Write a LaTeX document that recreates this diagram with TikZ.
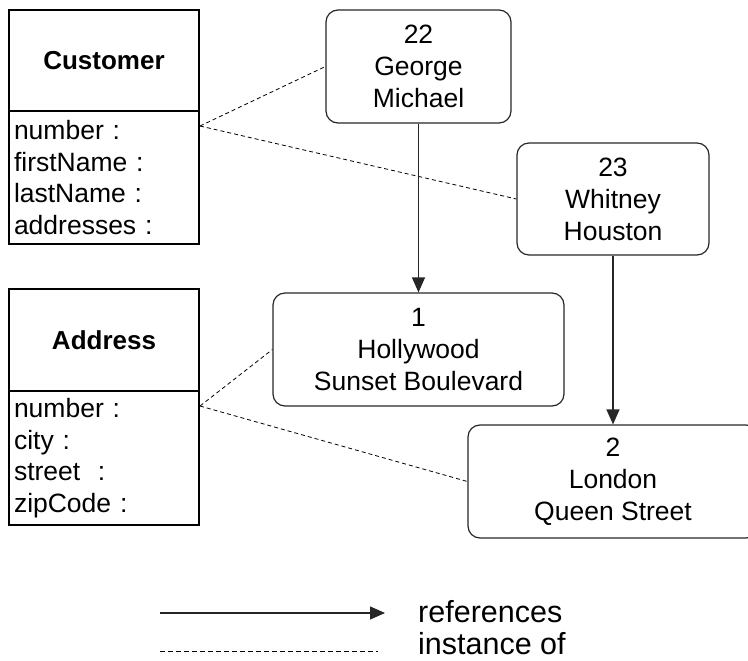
\documentclass[tikz,border=0pt]{standalone}
\usepackage{fontspec}
\setmainfont{Liberation Sans}
\usetikzlibrary{arrows.meta}
\begin{document}
\begin{tikzpicture}[x=1pt,y=-1pt,
  classhead/.style={draw, line width=2pt, minimum width=190pt, inner sep=0pt,
    font=\fontsize{26}{31}\selectfont\bfseries},
  classattr/.style={draw, line width=2pt, minimum width=190pt, text width=180pt,
    inner xsep=5pt, inner ysep=0pt, align=left, font=\fontsize{26.5}{31.5}\selectfont},
  objbox/.style={draw=black!85, line width=1.2pt, rounded corners=12pt, inner sep=0pt,
    minimum height=113pt, align=center, font=\fontsize{26.5}{32}\selectfont},
  refline/.style={line width=1.3pt, black!85, -{Triangle[length=15pt,width=13pt]}},
  instline/.style={line width=0.8pt, dash pattern=on 4pt off 3pt},
  legtext/.style={anchor=west, inner sep=0pt, font=\fontsize{30.5}{35}\selectfont}
]
\useasboundingbox (0,0) rectangle (748,661);

% classes
\node[classhead, minimum height=101pt] (chead) at (104,60.5) {Customer};
\node[classattr, minimum height=133pt] (cattr) at (104,177.5)
  {number :\\firstName :\\lastName :\\addresses :};
\node[classhead, minimum height=102pt] (ahead) at (104,340) {Address};
\node[classattr, minimum height=134pt] (aattr) at (104,458)
  {number :\\city :\\street~ :\\zipCode :};

% objects
\node[objbox, minimum width=185pt] (george) at (418.5,66.5) {22\\George\\Michael};
\node[objbox, minimum width=192pt, minimum height=112pt] (whitney) at (613,199) {23\\Whitney\\Houston};
\node[objbox, minimum width=291pt] (holly) at (418.5,349.5) {1\\Hollywood\\Sunset Boulevard};
\node[objbox, minimum width=290pt] (london) at (613,481.5) {2\\London\\Queen Street};

% instance-of points
\coordinate (cpt) at ([yshift=-16pt]cattr.north east);
\coordinate (apt) at ([yshift=-16pt]aattr.north east);

\draw[instline] (cpt) -- (george.west);
\draw[instline] (cpt) -- (whitney.west);
\draw[instline] (apt) -- (holly.west);
\draw[instline] (apt) -- (london.west);

% references
\draw[refline] (george.south) -- (holly.north);
\draw[refline] (whitney.south) -- (london.north);

% legend
\coordinate (l1a) at (160,613);
\coordinate (l1b) at (385,613);
\coordinate (l2a) at (160,651);
\coordinate (l2b) at (378,651);
\draw[refline] (l1a) -- (l1b);
\draw[line width=0.8pt, dash pattern=on 5pt off 3pt] (l2a) -- (l2b);
\node[legtext] (reftxt) at (418,612) {references};
\node[legtext] (insttxt) at (418,644) {instance of};
\end{tikzpicture}
\end{document}
